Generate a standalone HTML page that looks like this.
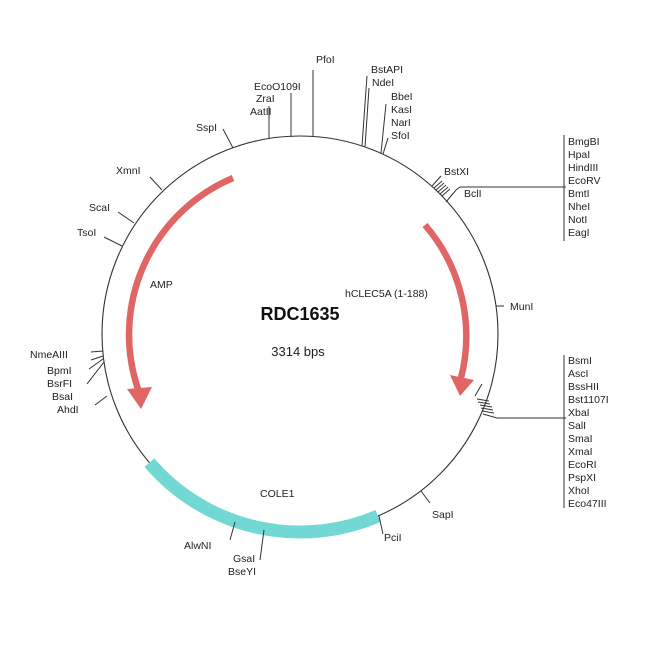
<!DOCTYPE html>
<html><head><style>body{margin:0;background:#fff}svg{display:block}text{font-family:"Liberation Sans",sans-serif;font-size:10.5px;fill:#222}</style></head><body>
<svg width="650" height="650" viewBox="0 0 650 650">
<circle cx="300" cy="334" r="198" fill="none" stroke="#333" stroke-width="1.1"/>
<path d="M149.4 462.6 A198 198 0 0 0 378 516" fill="none" stroke="#72d8d3" stroke-width="13"/>
<g fill="none" stroke="#e06666" stroke-width="6.5">
<path d="M425 225 A170 170 0 0 1 461 378"/>
<path d="M233 178 A170 170 0 0 0 139 392"/>
</g>
<polygon points="450,375 474,380 460,396" fill="#e06666"/>
<polygon points="127,389 152,387 141,409" fill="#e06666"/>
<g stroke="#333" stroke-width="1" fill="none">
<path d="M313 136 V70"/><path d="M291 137 V93"/><path d="M269 139 V106"/>
<path d="M233 148 L223 129"/>
<path d="M362 146 L367 76"/><path d="M365 147 L369 88"/>
<path d="M381 153 L386 104"/><path d="M383 154 L388 138"/>
<path d="M432 186 L441 176"/>
<path d="M434 188 L442 181 M436 190 L444 183 M438 192 L446 185 M440 194 L448 187 M442 196 L450 189"/>
<path d="M446 202 L456 190 L460 187 H566"/>
<path d="M564 135 V241"/>
<path d="M162 190 L150 177"/><path d="M134 223 L118 212"/><path d="M122 246 L104 237"/>
<path d="M103 351 L91 352"/><path d="M103 356 L91 360 M103 359 L89 369 M104 362 L87 384"/>
<path d="M107 396 L95 405"/>
<path d="M496 306 L504 306"/>
<path d="M421 491 L430 503"/>
<path d="M379 516 L383 534"/><path d="M235 522 L230 540"/><path d="M264 530 L260 560"/>
<path d="M475 396 L482 384 M477 399 L489 401 M478 402 L490 404 M480 405 L492 407 M481 408 L493 410 M482 411 L494 413"/>
<path d="M483 414 L497 418 H566"/><path d="M564 355 V508"/>
</g>
<text x="316" y="63">PfoI</text>
<text x="254" y="90">EcoO109I</text><text x="256" y="102">ZraI</text><text x="250" y="115">AatII</text>
<text x="196" y="131">SspI</text>
<text x="371" y="73">BstAPI</text><text x="372" y="86">NdeI</text>
<text x="391" y="100">BbeI</text><text x="391" y="113">KasI</text><text x="391" y="126">NarI</text><text x="391" y="139">SfoI</text>
<text x="444" y="175">BstXI</text><text x="464" y="197">BclI</text>
<text x="568" y="145">BmgBI</text><text x="568" y="158">HpaI</text><text x="568" y="171">HindIII</text><text x="568" y="184">EcoRV</text><text x="568" y="197">BmtI</text><text x="568" y="210">NheI</text><text x="568" y="223">NotI</text><text x="568" y="236">EagI</text>
<text x="568" y="364">BsmI</text><text x="568" y="377">AscI</text><text x="568" y="390">BssHII</text><text x="568" y="403">Bst1107I</text><text x="568" y="416">XbaI</text><text x="568" y="429">SalI</text><text x="568" y="442">SmaI</text><text x="568" y="455">XmaI</text><text x="568" y="468">EcoRI</text><text x="568" y="481">PspXI</text><text x="568" y="494">XhoI</text><text x="568" y="507">Eco47III</text>
<text x="510" y="310">MunI</text>
<text x="432" y="518">SapI</text><text x="384" y="541">PciI</text>
<text x="184" y="549">AlwNI</text><text x="233" y="562">GsaI</text><text x="228" y="575">BseYI</text>
<text x="116" y="174">XmnI</text><text x="89" y="211">ScaI</text><text x="77" y="236">TsoI</text>
<text x="30" y="358">NmeAIII</text><text x="47" y="374">BpmI</text><text x="47" y="387">BsrFI</text><text x="52" y="400">BsaI</text><text x="57" y="413">AhdI</text>
<text x="150" y="288" font-size="11">AMP</text>
<text x="345" y="297" font-size="11">hCLEC5A (1-188)</text>
<text x="260" y="497" font-size="11">COLE1</text>
<text x="300" y="320" text-anchor="middle" style="font-size:18px;font-weight:bold;fill:#111">RDC1635</text>
<text x="298" y="356" text-anchor="middle" style="font-size:13px">3314 bps</text>
</svg>
</body></html>
